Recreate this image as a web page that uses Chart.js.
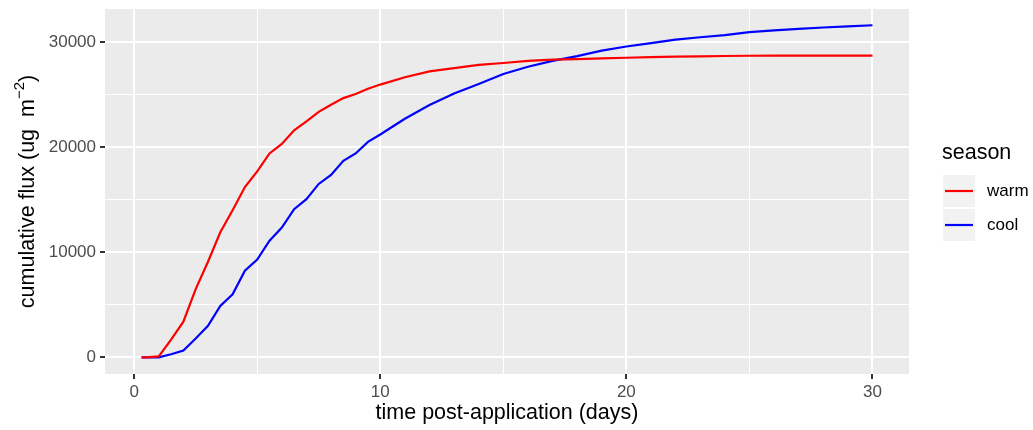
<!DOCTYPE html>
<html lang="en">
<head>
    <meta charset="UTF-8">
    <title>Cumulative flux by season</title>
    <script src="https://cdn.jsdelivr.net/npm/chart.js"></script>
    <style>
        body {
            margin: 0;
            background-color: #ffffff;
        }
        .wrap {
            width: 1033px;
            height: 430px;
        }
    </style>
</head>
<body>

<div class="wrap">
    <canvas id="fluxChart" width="1033" height="430"></canvas>
</div>

<script>
    // data (days, ug m^-2)
    const days = [0.3, 0.5, 1, 1.5, 2, 2.5, 3, 3.5, 4, 4.5, 5, 5.5, 6, 6.5, 7, 7.5, 8, 8.5, 9, 9.5, 10,
                  11, 12, 13, 14, 15, 16, 17, 18, 19, 20, 21, 22, 23, 24, 25, 26, 27, 28, 29, 30];
    const warm = [0, 0, 100, 1700, 3400, 6500, 9100, 11900, 14000, 16200, 17700, 19400, 20300, 21600, 22450, 23350, 24030, 24660, 25050, 25550, 25950,
                  26650, 27200, 27520, 27820, 28000, 28200, 28330, 28370, 28450, 28500, 28560, 28600, 28630, 28670, 28690, 28700, 28710, 28710, 28710, 28710];
    const cool = [0, 0, 0, 300, 650, 1800, 3000, 4900, 6000, 8250, 9300, 11100, 12350, 14100, 15050, 16500, 17350, 18700, 19400, 20500, 21200,
                  22700, 24000, 25100, 26000, 26950, 27650, 28200, 28650, 29180, 29570, 29900, 30230, 30450, 30650, 30930, 31100, 31250, 31380, 31480, 31590];
    const seasons = ['warm', 'cool'];
    const xTicks = [0, 10, 20, 30];
    const yTicks = [0, 10000, 20000, 30000];

    const FONT = '"Liberation Sans", Arial, sans-serif';

    function toPoints(ys) {
        return days.map((d, i) => ({ x: d, y: ys[i] }));
    }

    // major ticks plus the minor ones halfway between them
    function withMinor(major) {
        const out = [];
        major.forEach((v, i) => {
            out.push({ value: v });
            if (i < major.length - 1) out.push({ value: (v + major[i + 1]) / 2 });
        });
        return out;
    }

    // ggplot-like grey panel
    const panelBg = {
        id: 'panelBg',
        beforeDraw(chart) {
            const { ctx, chartArea: a } = chart;
            ctx.save();
            ctx.fillStyle = '#EBEBEB';
            ctx.fillRect(a.left, a.top, a.right - a.left, a.bottom - a.top);
            ctx.restore();
        }
    };

    // y title with a real superscript, plus the legend on the right
    const extras = {
        id: 'extras',
        afterDraw(chart) {
            const { ctx, chartArea: a } = chart;
            ctx.save();
            ctx.fillStyle = '#000000';
            ctx.textBaseline = 'middle';

            // y axis title
            const big = '21.5px ' + FONT, small = '15px ' + FONT;
            const p1 = 'cumulative flux (ug  m', p2 = '\u22122', p3 = ')';
            ctx.font = big;
            const w1 = ctx.measureText(p1).width, w3 = ctx.measureText(p3).width;
            ctx.font = small;
            const w2 = ctx.measureText(p2).width;
            ctx.translate(28, (a.top + a.bottom) / 2);
            ctx.rotate(-Math.PI / 2);
            let x = -(w1 + w2 + w3) / 2;
            ctx.textAlign = 'left';
            ctx.font = big;
            ctx.fillText(p1, x, 0);
            x += w1;
            ctx.font = small;
            ctx.fillText(p2, x, -8);
            x += w2;
            ctx.font = big;
            ctx.fillText(p3, x, 0);
            ctx.setTransform(1, 0, 0, 1, 0, 0);

            // legend
            ctx.font = big;
            ctx.fillText('season', 942, 153);
            chart.data.datasets.forEach((ds, i) => {
                const top = 175 + i * 34;
                ctx.fillStyle = '#F2F2F2';
                ctx.fillRect(943, top, 32, 32);
                ctx.strokeStyle = ds.borderColor;
                ctx.lineWidth = 2.2;
                ctx.beginPath();
                ctx.moveTo(945, top + 16);
                ctx.lineTo(973, top + 16);
                ctx.stroke();
                ctx.fillStyle = '#000000';
                ctx.font = '17px ' + FONT;
                ctx.fillText(ds.label, 987, top + 16);
            });
            ctx.restore();
        }
    };

    const ctxFlux = document.getElementById('fluxChart').getContext('2d');
    const fluxChart = new Chart(ctxFlux, {
        type: 'line',
        data: {
            datasets: [
                {
                    label: seasons[0],
                    data: toPoints(warm),
                    borderColor: '#FF0000',
                    borderWidth: 2.2,
                    pointRadius: 0,
                    tension: 0,
                    fill: false
                },
                {
                    label: seasons[1],
                    data: toPoints(cool),
                    borderColor: '#0000FF',
                    borderWidth: 2.2,
                    pointRadius: 0,
                    tension: 0,
                    fill: false
                }
            ]
        },
        options: {
            responsive: false,
            animation: false,
            layout: { padding: { top: 9, right: 124, left: 0, bottom: 0 } },
            plugins: {
                legend: { display: false },
                tooltip: { enabled: false }
            },
            scales: {
                x: {
                    type: 'linear',
                    min: -1.185,
                    max: 31.485,
                    afterBuildTicks(scale) { scale.ticks = withMinor(xTicks); },
                    afterFit(scale) {
                        scale.height = 56;
                        scale.paddingLeft = 0;
                        scale.paddingRight = 0;
                    },
                    border: { display: false },
                    grid: {
                        color: '#FFFFFF',
                        lineWidth: c => xTicks.includes(c.tick.value) ? 2 : 1,
                        tickColor: c => xTicks.includes(c.tick.value) ? '#333333' : 'rgba(0,0,0,0)',
                        tickWidth: 2,
                        tickLength: 5
                    },
                    ticks: {
                        autoSkip: false,
                        maxRotation: 0,
                        padding: 3,
                        color: '#4D4D4D',
                        font: { family: FONT, size: 17 },
                        callback: v => xTicks.includes(v) ? String(v) : ''
                    },
                    title: {
                        display: true,
                        text: 'time post-application (days)',
                        color: '#000000',
                        font: { family: FONT, size: 21.5 },
                        padding: { top: 0, bottom: 4 }
                    }
                },
                y: {
                    min: -1578,
                    max: 33138,
                    afterBuildTicks(scale) { scale.ticks = withMinor(yTicks); },
                    afterFit(scale) {
                        scale.width = 105;
                        scale.paddingTop = 0;
                        scale.paddingBottom = 0;
                    },
                    border: { display: false },
                    grid: {
                        color: '#FFFFFF',
                        lineWidth: c => yTicks.includes(c.tick.value) ? 2 : 1,
                        tickColor: c => yTicks.includes(c.tick.value) ? '#333333' : 'rgba(0,0,0,0)',
                        tickWidth: 2,
                        tickLength: 5
                    },
                    ticks: {
                        autoSkip: false,
                        padding: 4,
                        color: '#4D4D4D',
                        font: { family: FONT, size: 17 },
                        callback: v => yTicks.includes(v) ? String(v) : ''
                    }
                }
            }
        },
        plugins: [panelBg, extras]
    });
</script>

</body>
</html>
